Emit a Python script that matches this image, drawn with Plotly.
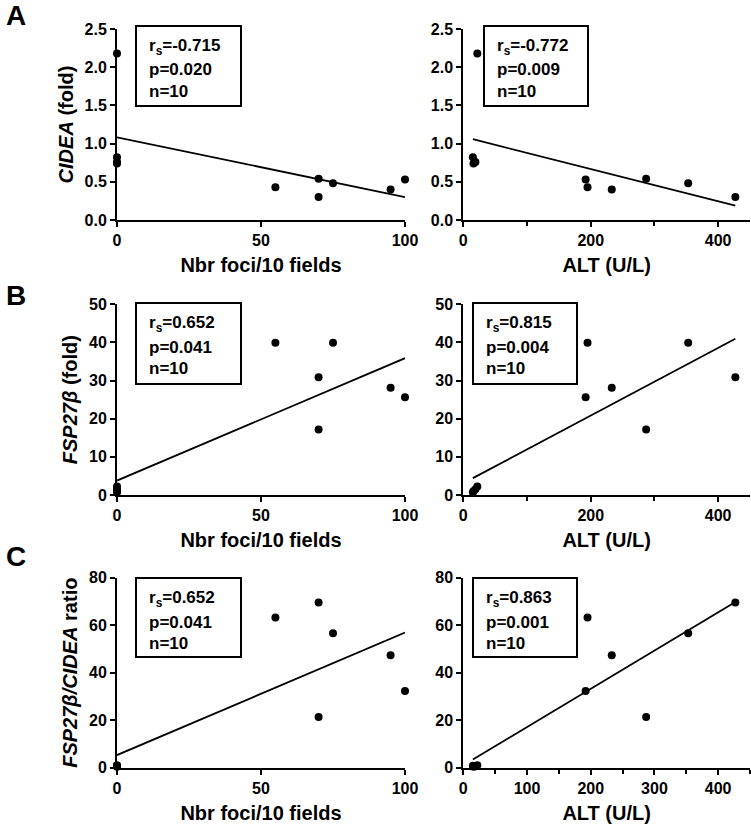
import numpy as np
import plotly.graph_objects as go

# ---------------- data ----------------
foci = [0, 0, 0, 0, 55, 70, 70, 75, 95, 100]
alt = [22, 15, 19, 16, 195, 287, 427, 353, 233, 192]
cidea = [2.18, 0.82, 0.76, 0.74, 0.43, 0.54, 0.30, 0.48, 0.40, 0.53]
fsp27b = [2.2, 0.7, 1.5, 1.0, 39.9, 17.2, 30.9, 39.9, 28.1, 25.6]
ratio = [1.0, 0.8, 0.6, 0.4, 63.2, 21.3, 69.6, 56.6, 47.4, 32.3]

rs_vals = ["-0.715", "-0.772", "0.652", "0.815", "0.652", "0.863"]
p_vals = ["0.020", "0.009", "0.041", "0.004", "0.041", "0.001"]
n_vals = [10, 10, 10, 10, 10, 10]

row_letters = ["A", "B", "C"]
x_titles = ["Nbr foci/10 fields", "ALT (U/L)"]
y_titles = ["<i>CIDEA</i> (fold)", "<i>FSP27β</i> (fold)", "<i>FSP27β/CIDEA</i> ratio"]
y_series = [cidea, fsp27b, ratio]
x_series = [foci, alt]
y_ranges = [[0, 2.5], [0, 50], [0, 80]]
y_dticks = [0.5, 10, 20]
y_formats = [".1f", "d", "d"]
x_ranges = [[0, 100], [0, 450]]

# ---------------- layout geometry (pixels) ----------------
W, H = 751, 824
col_px = [(117, 405), (463.3, 750)]
row_px = [(29, 220), (304.3, 495), (577.7, 767.7)]
box_px = [[(136, 241), (484, 588)], [(136, 241), (473, 577)], [(136, 241), (473, 577)]]
box_y_px = [(26, 106), (303, 384), (578, 657)]
line_offsets = [21, 44, 65]

FONT = "Liberation Sans"
fig = go.Figure()
layout = dict(
    width=W, height=H, autosize=False,
    margin=dict(l=0, r=0, t=0, b=0, autoexpand=False),
    paper_bgcolor="white", plot_bgcolor="white",
    font=dict(family=FONT, size=16, color="black", weight="bold"),
    showlegend=False,
)
annotations = []
shapes = []

for r in range(3):
    for c in range(2):
        k = 2 * r + c + 1
        xs = x_series[c]
        ys = y_series[r]
        xa = "x" if k == 1 else f"x{k}"
        ya = "y" if k == 1 else f"y{k}"
        fig.add_trace(go.Scatter(
            x=xs, y=ys, mode="markers", xaxis=xa, yaxis=ya,
            marker=dict(color="black", size=8), cliponaxis=False,
        ))
        slope, icpt = np.polyfit(xs, ys, 1)
        xl = np.array([min(xs), max(xs)])
        fig.add_trace(go.Scatter(
            x=xl, y=slope * xl + icpt, mode="lines", xaxis=xa, yaxis=ya,
            line=dict(color="black", width=1.8), cliponaxis=False,
        ))

        x0, x1 = col_px[c]
        yt, yb = row_px[r]
        if c == 0:
            xtick = dict(tickmode="array", tickvals=[0, 50, 100], ticktext=["0", "50", "100"])
            minor = None
        elif r < 2:
            xtick = dict(tickmode="array", tickvals=[0, 200, 400], ticktext=["0", "200", "400"])
            minor = dict(tickvals=[100, 300], ticklen=4, tickwidth=1.5, tickcolor="black", ticks="outside")
        else:
            xtick = dict(tickmode="array", tickvals=[0, 100, 200, 300, 400],
                         ticktext=["0", "100", "200", "300", "400"])
            minor = dict(tickvals=[50, 150, 250, 350, 450], ticklen=4, tickwidth=1.5,
                         tickcolor="black", ticks="outside")
        xaxis = dict(
            domain=[x0 / W, x1 / W], anchor=ya, range=x_ranges[c], automargin=False,
            showline=True, linecolor="black", linewidth=2, showgrid=False, zeroline=False,
            ticks="outside", ticklen=5, tickwidth=2, tickcolor="black",
            tickfont=dict(family=FONT, size=16, color="black", weight="bold"),
            title=dict(text=x_titles[c], standoff=10,
                       font=dict(family=FONT, size=20, color="black", weight="bold")),
            **xtick,
        )
        if minor:
            xaxis["minor"] = minor
        yaxis = dict(
            domain=[1 - yb / H, 1 - yt / H], anchor=xa, range=y_ranges[r], automargin=False,
            showline=True, linecolor="black", linewidth=2, showgrid=False, zeroline=False,
            ticks="outside", ticklen=5, tickwidth=2, tickcolor="black",
            dtick=y_dticks[r], tick0=0, tickformat=y_formats[r],
            tickfont=dict(family=FONT, size=16, color="black", weight="bold"),
        )
        if c == 0:
            yaxis["title"] = dict(text=y_titles[r], standoff=6,
                                  font=dict(family=FONT, size=20, color="black", weight="bold"))
        layout["xaxis" if k == 1 else f"xaxis{k}"] = xaxis
        layout["yaxis" if k == 1 else f"yaxis{k}"] = yaxis

        # stats box
        bx0, bx1 = box_px[r][c]
        by0, by1 = box_y_px[r]
        shapes.append(dict(
            type="rect", xref="paper", yref="paper",
            x0=bx0 / W, x1=bx1 / W, y0=1 - by1 / H, y1=1 - by0 / H,
            line=dict(color="black", width=2), fillcolor="rgba(0,0,0,0)",
        ))
        i = 2 * r + c
        lines = [f"r<sub>s</sub>={rs_vals[i]}", f"p={p_vals[i]}", f"n={n_vals[i]}"]
        for j, txt in enumerate(lines):
            annotations.append(dict(
                xref="paper", yref="paper", x=(bx0 + 12) / W, y=1 - (by0 + line_offsets[j]) / H,
                xanchor="left", yanchor="middle", align="left", showarrow=False,
                text=txt, borderpad=0,
                font=dict(family=FONT, size=17, color="black", weight="bold"),
            ))

letter_y = [15, 295, 556]
for r in range(3):
    annotations.append(dict(
        xref="paper", yref="paper", x=4 / W, y=1 - letter_y[r] / H,
        xanchor="left", yanchor="middle", showarrow=False, text=row_letters[r],
        font=dict(family=FONT, size=28, color="black", weight="bold"),
    ))

layout["annotations"] = annotations
layout["shapes"] = shapes
fig.update_layout(**layout)
fig.write_html("out.html", config={"displayModeBar": False},
               post_script="document.body.style.margin='0';")
